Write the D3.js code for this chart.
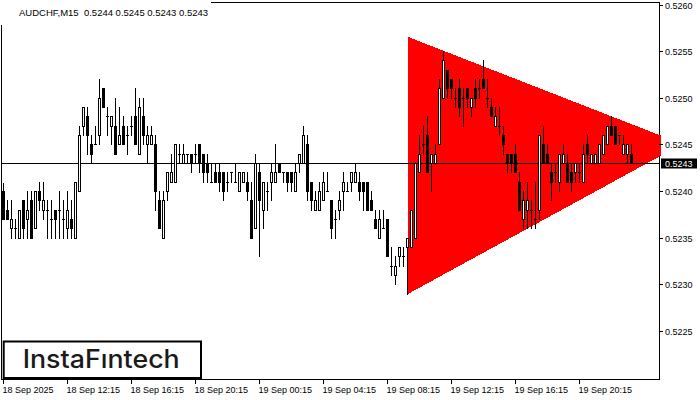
<!DOCTYPE html>
<html><head><meta charset="utf-8">
<script src="https://cdn.jsdelivr.net/npm/d3@7"></script>
<style>html,body{margin:0;padding:0;background:#fff;} svg{display:block;}</style>
</head><body>
<svg id="c" width="700" height="400"></svg>
<script>
const symbolTitle = "AUDCHF,M15  0.5244 0.5245 0.5243 0.5243";
const opens = [
0.52400,0.5238,0.5236,0.5236,0.5235,0.5239,0.5237,0.5239,0.5236,0.5240,
0.5238,0.5238,0.5237,0.5238,0.5238,0.5237,0.5236,0.5237,0.5235,0.5240,
0.5247,0.5248,0.5245,0.5245,0.5246,0.5251,0.5248,0.5247,0.5247,0.5245,
0.5247,0.5246,0.5247,0.5248,0.5244,0.5248,0.5245,0.5245,0.5245,0.5239,
0.5235,0.5240,0.5241,0.5241,0.5244,0.5243,0.5244,0.5244,0.5244,0.5245,
0.5244,0.5243,0.5241,0.5242,0.5242,0.5242,0.5241,0.5242,0.5241,0.5240,
0.5241,0.5241,0.5239,0.5236,0.5242,0.5238,0.5240,0.5241,0.5241,0.5243,
0.5242,0.5242,0.5242,0.5240,0.5243,0.5243,0.5245,0.5241,0.5238,0.5238,
0.5239,0.5240,0.5239,0.5237,0.5238,0.5240,0.5240,0.5241,0.5241,0.5241,
0.5241,0.5241,0.5239,0.5237,0.5235,0.5236,0.5237,0.5232,0.5231,0.5233,
0.5233,0.5234,0.5234,0.5235,0.5242,0.5245,0.5246,0.5243,0.5243,0.5245,
0.5250,0.5253,0.5252,0.5250,0.5251,0.5250,0.5251,0.5249,0.5251,0.5251,
0.5252,0.5250,0.5249,0.5247,0.5247,0.5246,0.5244,0.5244,0.5244,0.5241,
0.5237,0.5238,0.5238,0.5237,0.5238,0.5245,0.5244,0.5242,0.5242,0.5241,
0.5243,0.5243,0.5242,0.5242,0.5242,0.5241,0.5245,0.5243,0.5243,0.5243,
0.5244,0.5245,0.5247,0.5247,0.5246,0.5244,0.5244,0.5244];
const highs = [
0.52409,0.5239,0.5239,0.5237,0.5238,0.5239,0.5240,0.5240,0.5240,0.5241,
0.5241,0.5239,0.5239,0.5238,0.5240,0.5239,0.5240,0.5239,0.5241,0.5247,
0.5249,0.5249,0.5246,0.5247,0.5252,0.5251,0.5249,0.5248,0.5250,0.5249,
0.5248,0.5247,0.5248,0.5251,0.5250,0.5250,0.5247,0.5247,0.5246,0.5240,
0.5240,0.5242,0.5244,0.5245,0.5245,0.5245,0.5244,0.5244,0.5245,0.5245,
0.5244,0.5244,0.5243,0.5243,0.5243,0.5242,0.5242,0.5242,0.5243,0.5242,
0.5242,0.5242,0.5241,0.5244,0.5243,0.5241,0.5241,0.5243,0.5245,0.5243,
0.5242,0.5242,0.5242,0.5243,0.5244,0.5247,0.5246,0.5241,0.5240,0.5241,
0.5242,0.5242,0.5239,0.5238,0.5240,0.5242,0.5241,0.5242,0.5243,0.5242,
0.5241,0.5241,0.5240,0.5238,0.5238,0.5238,0.5237,0.5234,0.5233,0.5234,
0.5234,0.5235,0.5238,0.5243,0.5246,0.5247,0.5248,0.5244,0.5245,0.5252,
0.5255,0.5253,0.5252,0.5251,0.5252,0.5251,0.5251,0.5250,0.5252,0.5252,
0.5254,0.5252,0.5250,0.5249,0.5249,0.5247,0.5244,0.5244,0.5245,0.5242,
0.5240,0.5241,0.5239,0.5241,0.5246,0.5247,0.5245,0.5243,0.5243,0.5244,
0.5245,0.5244,0.5243,0.5243,0.5243,0.5245,0.5246,0.5244,0.5244,0.5245,
0.5246,0.5247,0.5248,0.5247,0.5246,0.5246,0.5245,0.5245];
const lows = [
0.52370,0.5237,0.5235,0.5235,0.5235,0.5235,0.5235,0.5235,0.5236,0.5238,
0.5237,0.5235,0.5235,0.5235,0.5235,0.5235,0.5235,0.5235,0.5235,0.5240,
0.5246,0.5244,0.5243,0.5245,0.5245,0.5249,0.5246,0.5245,0.5244,0.5245,
0.5245,0.5244,0.5246,0.5245,0.5244,0.5245,0.5243,0.5245,0.5238,0.5236,
0.5235,0.5239,0.5241,0.5241,0.5243,0.5243,0.5243,0.5242,0.5243,0.5242,
0.5241,0.5241,0.5241,0.5241,0.5240,0.5239,0.5240,0.5241,0.5241,0.5240,
0.5241,0.5239,0.5235,0.5236,0.5233,0.5236,0.5238,0.5239,0.5241,0.5242,
0.5241,0.5240,0.5240,0.5240,0.5242,0.5243,0.5239,0.5238,0.5238,0.5238,
0.5239,0.5240,0.5235,0.5235,0.5237,0.5238,0.5240,0.5240,0.5241,0.5239,
0.5238,0.5238,0.5238,0.5236,0.5235,0.5236,0.5233,0.5231,0.5230,0.5232,
0.5232,0.5229,0.5234,0.5235,0.5242,0.5244,0.5242,0.5240,0.5243,0.5245,
0.5250,0.5250,0.5250,0.5249,0.5248,0.5247,0.5249,0.5248,0.5249,0.5250,
0.5251,0.5249,0.5248,0.5247,0.5246,0.5244,0.5242,0.5242,0.5242,0.5238,
0.5236,0.5236,0.5236,0.5236,0.5237,0.5243,0.5243,0.5239,0.5241,0.5240,
0.5243,0.5241,0.5240,0.5241,0.5241,0.5241,0.5243,0.5243,0.5243,0.5243,
0.5244,0.5245,0.5246,0.5245,0.5245,0.5244,0.5243,0.5243];
const closes = [
0.52370,0.5237,0.5237,0.5236,0.5238,0.5236,0.5238,0.5235,0.5240,0.5239,
0.5239,0.5238,0.5237,0.5237,0.5238,0.5237,0.5238,0.5236,0.5241,0.5246,
0.5249,0.5246,0.5244,0.5245,0.5250,0.5249,0.5248,0.5248,0.5244,0.5246,
0.5245,0.5246,0.5247,0.5245,0.5249,0.5246,0.5246,0.5246,0.5240,0.5236,
0.5239,0.5242,0.5242,0.5245,0.5244,0.5244,0.5244,0.5243,0.5244,0.5243,
0.5242,0.5242,0.5241,0.5241,0.5241,0.5240,0.5241,0.5242,0.5241,0.5242,
0.5242,0.5240,0.5235,0.5243,0.5239,0.5241,0.5240,0.5242,0.5242,0.5242,
0.5242,0.5241,0.5241,0.5242,0.5244,0.5246,0.5240,0.5239,0.5239,0.5240,
0.5241,0.5240,0.5236,0.5237,0.5239,0.5241,0.5240,0.5242,0.5242,0.5240,
0.5240,0.5238,0.5238,0.5236,0.5237,0.5236,0.5233,0.5232,0.5232,0.5234,
0.5233,0.5235,0.5238,0.5243,0.5244,0.5245,0.5242,0.5244,0.5244,0.5251,
0.5254,0.5251,0.5251,0.5250,0.5249,0.5250,0.5250,0.5250,0.5250,0.5251,
0.5251,0.5250,0.5248,0.5248,0.5247,0.5245,0.5243,0.5243,0.5242,0.5238,
0.5239,0.5239,0.5238,0.5237,0.5246,0.5243,0.5243,0.5241,0.5242,0.5244,
0.5244,0.5241,0.5241,0.5243,0.5242,0.5244,0.5244,0.5244,0.5244,0.5245,
0.5246,0.5247,0.5246,0.5245,0.5246,0.5245,0.5245,0.5243];
const timeLabels = ["18 Sep 2025","18 Sep 12:15","18 Sep 16:15","18 Sep 20:15","19 Sep 00:15",
  "19 Sep 04:15","19 Sep 08:15","19 Sep 12:15","19 Sep 16:15","19 Sep 20:15"];
const barsPerLabel = 16;
const priceTicks = [0.5225,0.5230,0.5235,0.5240,0.5245,0.5250,0.5255,0.5260];
const lastPrice = 0.5243;
const triangleBars = [101, 101, 169.7];
const trianglePrices = [0.52566, 0.52290, 0.52451];
const logoText = "InstaF\u0131ntech";

const svg = d3.select("#c");
const x = d3.scaleLinear().domain([0, 1]).range([3.5, 7.5]);
const y = d3.scaleLinear().domain([0.5225, 0.5260]).range([331.5, 5]);
const row = p => Math.floor(y(p));
const py = p => Math.floor(y(p)) + 0.5;
const FONT = "'Liberation Sans', Arial, sans-serif";

svg.append("rect").attr("width", 700).attr("height", 400).attr("fill", "#fff");

// frame
svg.append("rect").attr("x", 1.5).attr("y", 2.5).attr("width", 658).attr("height", 377)
  .attr("fill", "none").attr("stroke", "#000");

// triangle
svg.append("clipPath").attr("id", "triclip").append("rect")
  .attr("x", 0).attr("y", 0).attr("width", 661).attr("height", 380);
svg.append("polygon")
  .attr("points", triangleBars.map((b, k) => x(b) + "," + y(trianglePrices[k])).join(" "))
  .attr("fill", "#ff0000").attr("shape-rendering", "crispEdges")
  .attr("clip-path", "url(#triclip)");

// last price line
svg.append("line").attr("x1", 2).attr("x2", 659)
  .attr("y1", py(lastPrice)).attr("y2", py(lastPrice))
  .attr("stroke", "#000").attr("stroke-width", 1);

// candles
const bars = d3.range(opens.length);
const g = svg.append("g");
bars.forEach(i => {
  const o = opens[i], h = highs[i], l = lows[i], c = closes[i];
  const cx = x(i);
  g.append("line").attr("x1", cx).attr("x2", cx)
    .attr("y1", row(h)).attr("y2", row(l) + 1)
    .attr("stroke", "#000").attr("stroke-width", 1);
  const top = row(Math.max(o, c)), bot = row(Math.min(o, c));
  if (bot - top < 1) {
    g.append("line").attr("x1", cx - 1.5).attr("x2", cx + 1.5)
      .attr("y1", top + 0.5).attr("y2", top + 0.5)
      .attr("stroke", "#000").attr("stroke-width", 1);
  } else if (c > o) {
    g.append("rect").attr("x", cx - 1).attr("y", top + 0.5)
      .attr("width", 2).attr("height", bot - top)
      .attr("fill", "#fff").attr("stroke", "#000").attr("stroke-width", 1);
  } else {
    g.append("rect").attr("x", cx - 1.5).attr("y", top)
      .attr("width", 3).attr("height", bot - top + 1).attr("fill", "#000");
  }
});

// header
svg.append("rect").attr("x", 0).attr("y", 0).attr("width", 211).attr("height", 25).attr("fill", "#fff");
svg.append("text").attr("x", 19).attr("y", 15.5).text(symbolTitle)
  .style("white-space", "pre").attr("font-family", FONT).attr("font-size", 9.5).attr("fill", "#000");

// y axis
const ya = svg.append("g");
priceTicks.forEach(p => {
  ya.append("line").attr("x1", 659).attr("x2", 663).attr("y1", py(p)).attr("y2", py(p)).attr("stroke", "#000");
  ya.append("text").attr("x", 665).attr("y", py(p) + 3.5).text(d3.format(".4f")(p))
    .attr("font-family", FONT).attr("font-size", 9).attr("fill", "#000");
});
svg.append("rect").attr("x", 661).attr("y", py(lastPrice) - 5).attr("width", 36).attr("height", 10).attr("fill", "#000");
svg.append("text").attr("x", 665).attr("y", py(lastPrice) + 3.5).text(d3.format(".4f")(lastPrice))
  .attr("font-family", FONT).attr("font-size", 9).attr("fill", "#fff");

// x axis
const xa = svg.append("g");
timeLabels.forEach((lab, k) => {
  const tx = x(k * barsPerLabel);
  xa.append("line").attr("x1", tx).attr("x2", tx).attr("y1", 380).attr("y2", 384).attr("stroke", "#000");
  xa.append("text").attr("x", tx - 1).attr("y", 393).text(lab)
    .attr("font-family", FONT).attr("font-size", 9).attr("fill", "#000");
});

// logo
svg.append("rect").attr("x", 3.7).attr("y", 341.5).attr("width", 197.3).attr("height", 36.5)
  .attr("fill", "#fff").attr("stroke", "#000").attr("stroke-width", 2);
svg.append("text").attr("x", 22.7).attr("y", 367.7).text(logoText)
  .attr("font-family", "Inter, Lato, sans-serif").attr("font-weight", 500).attr("font-size", 25)
  .attr("textLength", 157).attr("lengthAdjust", "spacingAndGlyphs").attr("fill", "#1a1a1a");
</script>
</body></html>
